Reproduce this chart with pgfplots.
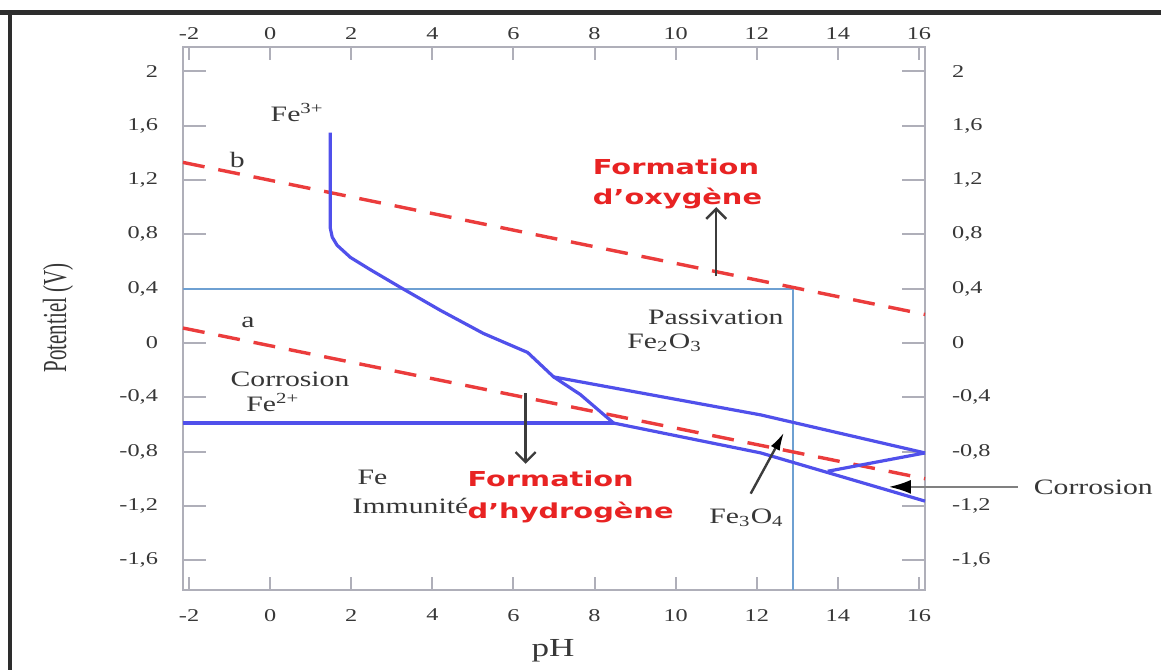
\documentclass[border=0pt]{standalone}
\usepackage{fontspec}
\setmainfont{Liberation Serif}
\newfontfamily\redfont{DejaVu Sans}
\usepackage{graphicx}
\usepackage{pgfplots}
\pgfplotsset{compat=1.18}
\usetikzlibrary{arrows.meta}

\definecolor{mblue}{RGB}{80,80,235}
\definecolor{sblue}{RGB}{110,160,210}
\definecolor{mred}{RGB}{235,60,60}
\definecolor{redtxt}{RGB}{232,35,35}
\definecolor{axgray}{RGB}{175,175,185}
\definecolor{tdark}{RGB}{55,55,55}
\definecolor{arrowc}{RGB}{60,60,60}
\definecolor{framec}{RGB}{45,45,45}

\newcommand\tl[1]{\scalebox{1.35}[1]{\fontsize{9}{10}\selectfont #1}}
\newcommand\lab[1]{\scalebox{1.35}[1]{\fontsize{11}{12}\selectfont #1}}
\newcommand\rtx[1]{\scalebox{1.4}[1]{\fontsize{10.3}{12}\selectfont\redfont\bfseries #1}}

\pgfplotsset{
  commonax/.style={
    at={(0pt,0pt)}, anchor=south west,
    scale only axis, width=371pt, height=271.5pt,
    xmin=-2.15, xmax=16.15, ymin=-1.82, ymax=2.18,
    xtick={-2,0,2,4,6,8,10,12,14,16},
    ytick={-1.6,-1.2,-0.8,-0.4,0,0.4,0.8,1.2,1.6,2},
    xticklabels={{\tl{-2}},{\tl{0}},{\tl{2}},{\tl{4}},{\tl{6}},{\tl{8}},{\tl{10}},{\tl{12}},{\tl{14}},{\tl{16}}},
    yticklabels={{\tl{-1,6}},{\tl{-1,2}},{\tl{-0,8}},{\tl{-0,4}},{\tl{0}},{\tl{0,4}},{\tl{0,8}},{\tl{1,2}},{\tl{1,6}},{\tl{2}}},
    tick align=inside,
    clip=false,
  }
}

\begin{document}
\begin{tikzpicture}
\begin{axis}[commonax,
  axis line style={axgray, line width=1.3pt},
  tick style={axgray, line width=1pt},
  major tick length=7pt,
  xtick style={/pgfplots/major tick length=6.5pt},
  ytick style={/pgfplots/major tick length=11.5pt},
  xticklabel style={yshift=-6pt, text=tdark},
  yticklabel style={xshift=-9pt, text=tdark},
]
% frame of the picture
\draw[framec, line width=2.5pt] (rel axis cs:-0.2466,1.0635) -- (rel axis cs:1.318,1.0635);
\draw[framec, line width=2pt] (rel axis cs:-0.2332,1.0681) -- (rel axis cs:-0.2332,-0.1473);
\coordinate (BL) at (rel axis cs:-0.2466,-0.1473);
\coordinate (TR) at (rel axis cs:1.318,1.0866);

% thin passivation limits
\addplot[sblue, line width=1.1pt] coordinates {(-2.15,0.4) (12.9,0.4) (12.9,-1.82)};

% water stability lines
\addplot[mred, line width=1.7pt, dash pattern=on 11pt off 7pt] coordinates {(-2.15,1.33) (16.15,0.21)};
\addplot[mred, line width=1.7pt, dash pattern=on 11pt off 7pt] coordinates {(-2.15,0.11) (16.15,-1.0)};

% iron domains
\addplot[mblue, line width=1.6pt, line join=round] coordinates {
 (1.48,1.55) (1.48,0.85) (1.53,0.78) (1.65,0.72) (1.98,0.63) (2.47,0.54) (3.21,0.41)
 (4.20,0.24) (5.26,0.07) (6.35,-0.07) (6.99,-0.25) (7.65,-0.38) (8.47,-0.59)};
\addplot[mblue, line width=1.6pt] coordinates {(-2.15,-0.59) (8.47,-0.59)};
\addplot[mblue, line width=1.6pt] coordinates {(6.99,-0.25) (12.1,-0.53) (16.15,-0.81)};
\addplot[mblue, line width=1.6pt] coordinates {(8.47,-0.59) (12.1,-0.81) (16.15,-1.165)};
\addplot[mblue, line width=1.6pt] coordinates {(16.15,-0.81) (13.75,-0.945)};

% arrows
\addplot[arrowc, line width=1.2pt, -{Straight Barb[length=5pt,width=10pt]}] coordinates {(11.0,0.49) (11.0,1.0)};
\addplot[arrowc, line width=1.2pt, -{Straight Barb[length=5pt,width=10pt]}] coordinates {(6.3,-0.37) (6.3,-0.89)};
\addplot[arrowc, line width=1.2pt, -{Latex[length=9pt,width=5pt,color=black]}] coordinates {(11.85,-1.11) (12.67,-0.66)};
\addplot[gray, line width=1pt, -{Latex[length=11pt,width=7pt,color=black]}] coordinates {(18.44,-1.06) (15.26,-1.06)};

% labels
\node[text=tdark] at (axis cs:0.67,1.70) {\lab{Fe\textsuperscript{3+}}};
\node[text=tdark] at (axis cs:-0.81,1.35) {\lab{b}};
\node[text=tdark] at (axis cs:-0.55,0.15) {\lab{a}};
\node[anchor=base west, text=redtxt, inner sep=0pt] at (axis cs:7.95,1.24) {\rtx{Formation}};
\node[anchor=base west, text=redtxt, inner sep=0pt] at (axis cs:7.95,1.018) {\rtx{d’oxygène}};
\node[text=tdark] at (axis cs:10.99,0.19) {\lab{Passivation}};
\node[text=tdark] at (axis cs:9.73,0.0) {\lab{Fe\textsubscript{2}O\textsubscript{3}}};
\node[text=tdark] at (axis cs:0.49,-0.27) {\lab{Corrosion}};
\node[text=tdark] at (axis cs:0.07,-0.44) {\lab{Fe\textsuperscript{2+}}};
\node[text=tdark] at (axis cs:2.52,-0.99) {\lab{Fe}};
\node[text=tdark] at (axis cs:3.46,-1.20) {\lab{Immunité}};
\node[anchor=base west, text=redtxt, inner sep=0pt] at (axis cs:4.86,-1.055) {\rtx{Formation}};
\node[anchor=base west, text=redtxt, inner sep=0pt] at (axis cs:4.86,-1.29) {\rtx{d’hydrogène}};
\node[text=tdark] at (axis cs:11.75,-1.29) {\lab{Fe\textsubscript{3}O\textsubscript{4}}};
\node[text=tdark] at (axis cs:20.3,-1.06) {\lab{Corrosion}};
\node[text=tdark] at (rel axis cs:0.4987,-0.1123) {\scalebox{1.35}[1]{\fontsize{13}{14}\selectfont pH}};
\node[text=tdark, rotate=90] at (rel axis cs:-0.1685,0.501) {\scalebox{1}[1.6]{\fontsize{10.5}{12}\selectfont Potentiel (V)}};
\end{axis}

\begin{axis}[commonax,
  axis line style={draw=none},
  tick style={draw=none},
  major tick length=0pt,
  xticklabel pos=top,
  yticklabel pos=right,
  xticklabel style={text=tdark},
  yticklabel style={xshift=10pt, text=tdark},
]
\end{axis}
\pgfresetboundingbox
\useasboundingbox (BL) rectangle (TR);
\end{tikzpicture}
\end{document}
